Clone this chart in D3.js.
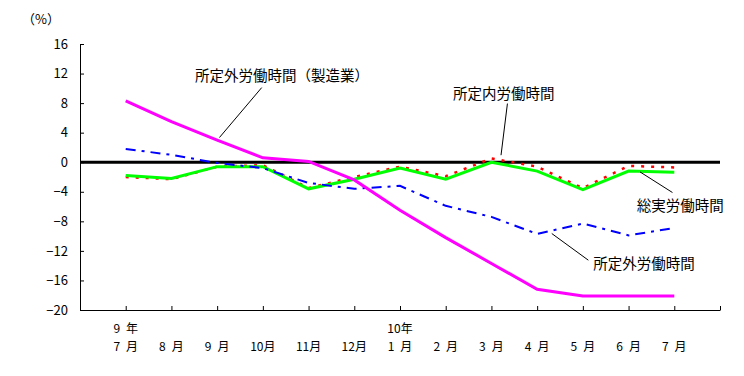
<!DOCTYPE html>
<html>
<head lang="ja">
    <meta charset="UTF-8">
    <title></title>
    <script src="https://cdn.jsdelivr.net/npm/d3@7/dist/d3.min.js" charset="UTF-8"></script>
    <style>
        body{margin:0;background:#fff;}
        text{font-family:"Noto Sans CJK JP","Noto Sans",sans-serif;fill:#000;}
    </style>
</head>
<body>
<script>
    // 前年同月比 (%)
    var months = ["7","8","9","10","11","12","1","2","3","4","5","6","7"];
    var years = ["9","","","","","","10","","","","","",""];
    var yTicks = [16,12,8,4,0,-4,-8,-12,-16,-20];
    var totalHours = [-1.8,-2.2,-0.6,-0.6,-3.6,-2.3,-0.8,-2.3,0.0,-1.2,-3.7,-1.2,-1.35];   // 総実労働時間
    var scheduled = [-2.0,-2.3,-0.6,-0.4,-3.5,-2.0,-0.6,-1.9,0.5,-0.6,-3.5,-0.5,-0.7];    // 所定内労働時間
    var overtime = [1.8,1.0,-0.1,-0.8,-2.8,-3.6,-3.2,-5.9,-7.4,-9.7,-8.3,-9.9,-8.9];      // 所定外労働時間
    var overtimeMfg = [8.3,5.5,3.0,0.6,0.1,-2.4,-6.5,-10.2,-13.7,-17.2,-18.1,-18.1,-18.1]; // 所定外労働時間（製造業）

    var _svg = d3.select("body")
            .append("svg")
            .attr("width",744)
            .attr("height",376);

    var _x = d3.scaleLinear().domain([-1,months.length]).range([80,720]);
    var _y = d3.scaleLinear().domain([-20,16]).range([310,44]);

    // y軸
    var _gy = _svg.append("g").attr("transform","translate(80,0)");
    _gy.call(d3.axisLeft(_y).tickValues(yTicks).tickSizeInner(-4).tickSizeOuter(0).tickPadding(12));
    _gy.selectAll("text").style("font-size","13px").attr("fill","#000");
    _gy.selectAll("line,path").attr("stroke","#000");

    // x軸
    var _gx = _svg.append("g").attr("transform","translate(0,310)");
    _gx.call(d3.axisBottom(_x).tickValues(d3.range(-1,months.length+1)).tickSizeInner(-4).tickSizeOuter(0).tickFormat(""));
    _gx.selectAll("line,path").attr("stroke","#000");

    _svg.append("text")
            .attr("x",41).attr("y",24)
            .attr("text-anchor","middle")
            .style("font-size","13px")
            .text("（%）");

    _svg.append("g").selectAll("text")
            .data(months)
            .enter()
            .append("text")
            .attr("x",function(d,i){return _x(i);})
            .attr("y",351)
            .attr("text-anchor","middle")
            .style("font-size","12px")
            .text(function(d){return (d.length<2 ? d+"\u2002" : d)+"月";});
    _svg.append("g").selectAll("text")
            .data(years.filter(function(d){return d!="";}))
            .enter()
            .append("text")
            .attr("x",function(d){return _x(years.indexOf(d));})
            .attr("y",333)
            .attr("text-anchor","middle")
            .style("font-size","12px")
            .text(function(d){return (d.length<2 ? d+"\u2002" : d)+"年";});

    // 0の線
    _svg.append("line")
            .attr("x1",_x(-1)).attr("x2",_x(months.length))
            .attr("y1",_y(0)).attr("y2",_y(0))
            .attr("stroke","#000")
            .attr("stroke-width",3);

    var _line = d3.line()
            .x(function(d,i){return _x(i);})
            .y(function(d){return _y(d);});

    var series = [
        {data:scheduled, color:"#ff0000", width:2.5, dash:"3,7"},
        {data:totalHours, color:"#00ff00", width:3, dash:null},
        {data:overtime, color:"#0000ff", width:2, dash:"10,6,3,6"},
        {data:overtimeMfg, color:"#ff00ff", width:3, dash:null}
    ];
    series.forEach(function(s){
        _svg.append("path")
                .attr("d",_line(s.data))
                .attr("fill","none")
                .attr("stroke",s.color)
                .attr("stroke-width",s.width)
                .attr("stroke-dasharray",s.dash);
    });

    // 注記 (引出線は データ座標)
    var notes = [
        {label:"所定外労働時間（製造業）", tx:195, ty:80.5, from:[2.05,3.34], to:[2.975,10.1]},
        {label:"所定内労働時間", tx:453, ty:98.8, from:[8.21,0.95], to:[8.35,7.94]},
        {label:"総実労働時間", tx:636.7, ty:210.5, from:[11.25,-1.31], to:[11.96,-4.1]},
        {label:"所定外労働時間", tx:593.3, ty:268.8, from:[9.32,-9.65], to:[10.12,-13.26]}
    ];
    notes.forEach(function(n){
        _svg.append("line")
                .attr("x1",_x(n.from[0])).attr("y1",_y(n.from[1]))
                .attr("x2",_x(n.to[0])).attr("y2",_y(n.to[1]))
                .attr("stroke","#000")
                .attr("stroke-width",1);
        _svg.append("text")
                .attr("x",n.tx).attr("y",n.ty)
                .style("font-size","14.5px")
                .text(n.label);
    });
</script>
</body>
</html>
